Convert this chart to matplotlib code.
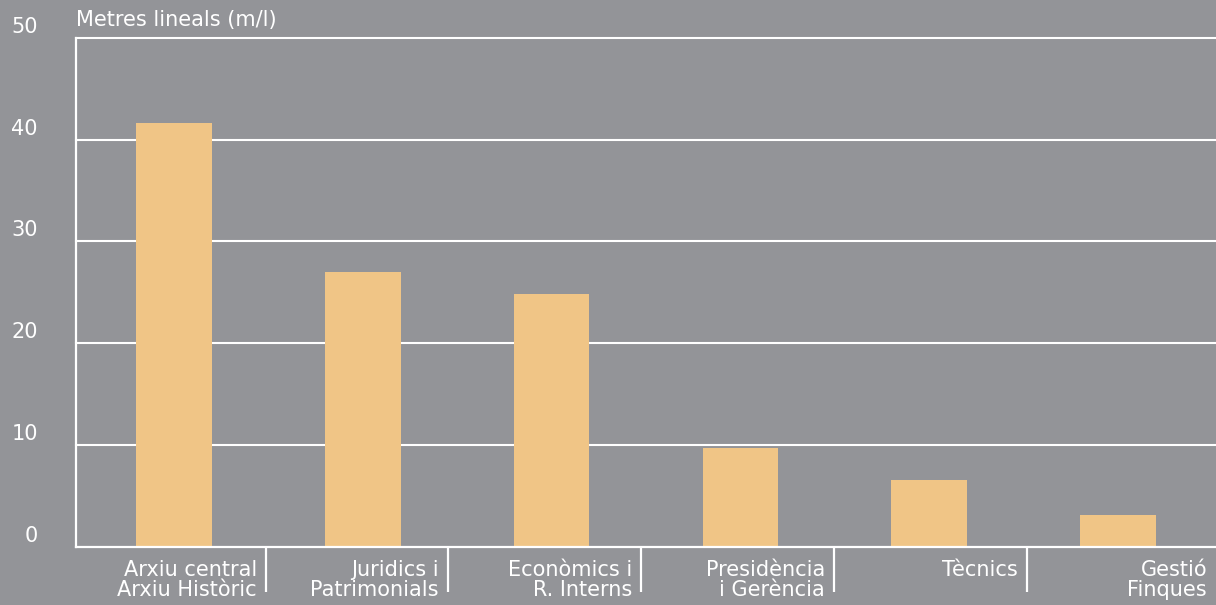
import matplotlib
matplotlib.use("Agg")
import matplotlib.pyplot as plt
from matplotlib.transforms import blended_transform_factory

categories = ["Arxiu central\nArxiu Històric", "Juridics i\nPatrimonials", "Econòmics i\nR. Interns",
              "Presidència\ni Gerència", "Tècnics", "Gestió\nFinques"]
values = [41.6, 27.0, 24.8, 9.7, 6.55, 3.1]
yticks = [0, 10, 20, 30, 40, 50]
ylabel_text = "Metres lineals (m/l)"

BG = "#939498"
BAR = "#f0c586"
W = 1216
H = 605
FS = 15
plt.rcParams['font.family'] = ['DejaVu Sans']

fig = plt.figure(figsize=(W / 100, H / 100), dpi=100, facecolor=BG)
ax = fig.add_axes([76 / W, (H - 546.8) / H, 1 - 76 / W, (546.8 - 37.8) / H])
ax.set_facecolor(BG)

x = list(range(len(categories)))
ax.bar(x, values, width=0.4, color=BAR, zorder=3)
ax.set_xlim(-0.519, 5.519)
ax.set_ylim(0, 50)

for t in yticks[1:]:
    ax.axhline(t, color="white", lw=1.5, zorder=2, clip_on=False)

for s in ["top", "right"]:
    ax.spines[s].set_visible(False)
for s in ["left", "bottom"]:
    ax.spines[s].set_color("white")
    ax.spines[s].set_linewidth(1.6)
    ax.spines[s].set_zorder(4)
ax.set_xticks([])
ax.set_yticks([])

# y tick labels (bottom-aligned on the grid lines)
ytr = blended_transform_factory(fig.transFigure, ax.transData)
for t in yticks:
    ax.text(38 / W, t + 0.1, str(t), transform=ytr, ha="right", va="bottom",
            color="white", fontsize=FS)

ax.text(0.0, 1.015, ylabel_text, transform=ax.transAxes, ha="left", va="bottom",
        color="white", fontsize=FS)

# separators and category labels
sep = [0.487, 1.451, 2.474, 3.496, 4.518, 5.519]
btr = blended_transform_factory(ax.transData, ax.transAxes)
for i, lab in enumerate(categories):
    if i < len(categories) - 1:
        ax.plot([sep[i], sep[i]], [0, -0.089], transform=btr, color="white", lw=1.6,
                clip_on=False, solid_capstyle="butt")
    ax.annotate(lab, xy=(sep[i], 0), xycoords=btr, xytext=(-9, -13),
                textcoords="offset pixels", ha="right", va="top", color="white",
                fontsize=FS, linespacing=1.0)

fig.savefig("out.png", dpi=100, facecolor=BG)
